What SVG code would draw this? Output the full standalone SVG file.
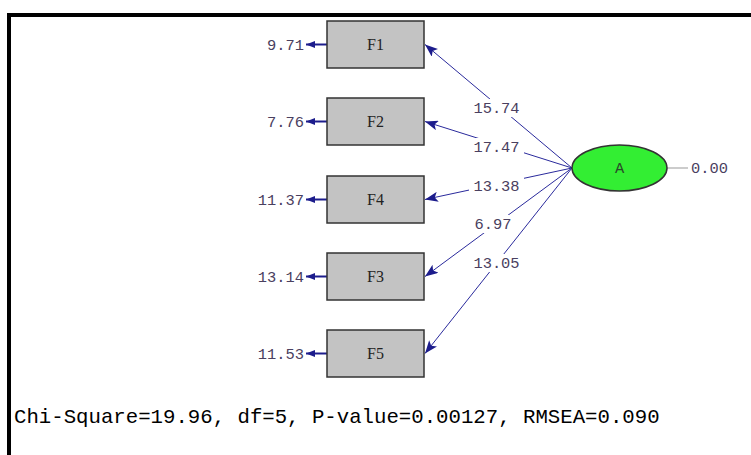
<svg xmlns="http://www.w3.org/2000/svg" width="751" height="455" viewBox="0 0 751 455">
<defs>
<marker id="ah" markerUnits="userSpaceOnUse" markerWidth="14" markerHeight="10" refX="13" refY="5" orient="auto">
<path d="M0,0 L13,5 L0,10 L3,5 Z" fill="#1c1c8c"/>
</marker>
<marker id="eh" markerUnits="userSpaceOnUse" markerWidth="10" markerHeight="8" refX="9" refY="4" orient="auto">
<path d="M0,0.5 L9,4 L0,7.5 Z" fill="#1c1c8c"/>
</marker>
</defs>
<style>
.box rect{fill:#c3c3c3;stroke:#333;stroke-width:1.5}
.bl{font-family:"Liberation Serif",serif;font-size:16px;fill:#222;text-anchor:middle}
.num{font-family:"Liberation Mono",monospace;font-size:15.4px;fill:#4a4060}
.ev{text-anchor:end}
.lab{text-anchor:middle}
.bg{fill:#fff;stroke:none}
.ld{stroke:#2a2a9c;stroke-width:1;fill:none;marker-end:url(#ah)}
.er{stroke:#1c1c8c;stroke-width:2;fill:none;marker-end:url(#eh)}
</style>
<rect width="751" height="455" fill="#fff"/>
<path d="M9,455 V15 H751" fill="none" stroke="#000" stroke-width="4"/>
<g id="connectors">
<line class="ld" x1="572" y1="168" x2="425" y2="44.5"/>
<line class="ld" x1="572" y1="168" x2="425" y2="121.5"/>
<line class="ld" x1="572" y1="168" x2="425" y2="199.5"/>
<line class="ld" x1="572" y1="168" x2="425" y2="276.5"/>
<line class="ld" x1="572" y1="168" x2="425" y2="353.5"/>
<line class="er" x1="327" y1="44.5" x2="306" y2="44.5"/>
<line class="er" x1="327" y1="121.5" x2="306" y2="121.5"/>
<line class="er" x1="327" y1="199.5" x2="306" y2="199.5"/>
<line class="er" x1="327" y1="276.5" x2="306" y2="276.5"/>
<line class="er" x1="327" y1="353.5" x2="306" y2="353.5"/>
<line x1="667" y1="168" x2="688" y2="168" stroke="#999" stroke-width="1"/>
<rect class="bg" x="469" y="99" width="55" height="18"/>
<rect class="bg" x="469" y="138" width="55" height="18"/>
<rect class="bg" x="469" y="177" width="55" height="18"/>
<rect class="bg" x="475" y="215" width="36" height="18"/>
<rect class="bg" x="469" y="254" width="55" height="18"/>
<text class="num lab" x="496.5" y="113">15.74</text>
<text class="num lab" x="496.5" y="152">17.47</text>
<text class="num lab" x="496.5" y="191">13.38</text>
<text class="num lab" x="493" y="229">6.97</text>
<text class="num lab" x="496.5" y="268">13.05</text>
</g>
<g id="F1" class="box"><rect x="327" y="21" width="97" height="47"/><text class="bl" x="375.5" y="50">F1</text><text class="num ev" x="304" y="49.5">9.71</text></g>
<g id="F2" class="box"><rect x="327" y="98" width="97" height="47"/><text class="bl" x="375.5" y="127">F2</text><text class="num ev" x="304" y="126.5">7.76</text></g>
<g id="F4" class="box"><rect x="327" y="176" width="97" height="47"/><text class="bl" x="375.5" y="205">F4</text><text class="num ev" x="304" y="204.5">11.37</text></g>
<g id="F3" class="box"><rect x="327" y="253" width="97" height="47"/><text class="bl" x="375.5" y="282">F3</text><text class="num ev" x="304" y="281.5">13.14</text></g>
<g id="F5" class="box"><rect x="327" y="330" width="97" height="47"/><text class="bl" x="375.5" y="359">F5</text><text class="num ev" x="304" y="358.5">11.53</text></g>
<g id="A">
<ellipse cx="619.5" cy="168" rx="47.5" ry="23" fill="#33ee33" stroke="#333" stroke-width="1.5"/>
<text x="619.5" y="173" font-family="Liberation Mono,monospace" font-size="15.4" fill="#2a4a2a" text-anchor="middle">A</text>
<text class="num" x="691" y="173">0.00</text>
</g>
<text x="14" y="423" font-family="Liberation Mono,monospace" font-size="20.7" fill="#000">Chi-Square=19.96, df=5, P-value=0.00127, RMSEA=0.090</text>
</svg>
